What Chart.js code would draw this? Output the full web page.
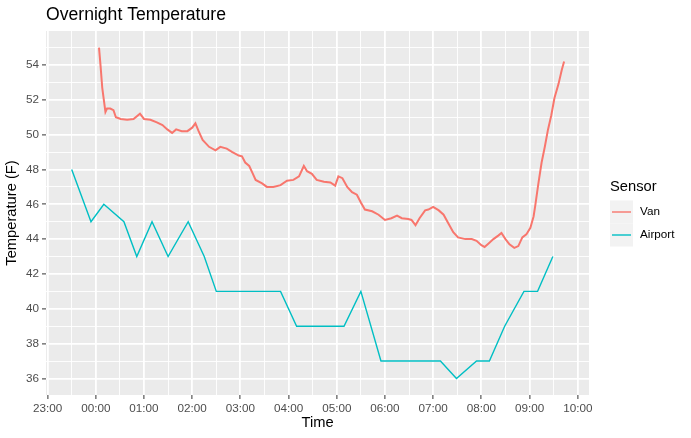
<!DOCTYPE html>
<html>
<head>
<meta charset="utf-8">
<script src="https://cdn.jsdelivr.net/npm/chart.js@4.4.0/dist/chart.umd.min.js"></script>
<style>
  html, body { margin: 0; padding: 0; background: #ffffff; }
</style>
</head>
<body>
<canvas id="overnight" width="691" height="438"></canvas>
<script>
// minutes relative to midnight (negative = before 00:00)
var vanMinutes = [4, 6, 8, 10, 12, 14, 18, 22, 25, 31, 39, 47, 55, 60, 68, 76, 83, 89, 95, 100,
  107, 114, 120, 124, 128, 133, 141, 149, 155, 163, 170, 178, 182, 186, 191, 195, 199, 207, 213, 221,
  230, 238, 246, 253, 259, 263, 269, 275, 284, 292, 298, 302, 307, 313, 319, 325, 330, 335, 344, 352,
  360, 368, 375, 381, 389, 393, 398, 403, 410, 414, 420, 427, 433, 439, 445, 451, 460, 468, 474, 480,
  484, 489, 495, 501, 505, 510, 515, 521, 526, 531, 536, 541, 545, 547, 551, 555, 559, 563, 567, 571,
  576, 580, 583];
var vanTemps = [55.0, 53.9, 52.7, 52.0, 51.3, 51.5, 51.5, 51.4, 51.0, 50.9, 50.85, 50.9, 51.2, 50.9, 50.85, 50.7, 50.55, 50.3, 50.1, 50.3,
  50.2, 50.2, 50.4, 50.65, 50.2, 49.7, 49.3, 49.1, 49.3, 49.2, 49.0, 48.8, 48.75, 48.4, 48.2, 47.8, 47.4, 47.2, 47.0, 47.0,
  47.1, 47.35, 47.4, 47.6, 48.2, 47.9, 47.75, 47.4, 47.3, 47.25, 47.07, 47.6, 47.5, 47.0, 46.7, 46.55, 46.1, 45.7, 45.6, 45.4,
  45.1, 45.2, 45.35, 45.2, 45.15, 45.1, 44.8, 45.2, 45.65, 45.7, 45.85, 45.65, 45.4, 44.9, 44.4, 44.1, 44.0, 44.0, 43.9, 43.65,
  43.55, 43.75, 44.0, 44.2, 44.35, 44.0, 43.7, 43.5, 43.6, 44.1, 44.27, 44.65, 45.3, 45.9, 47.2, 48.4, 49.3, 50.3, 51.1, 52.1,
  52.9, 53.7, 54.2];

var airportMinutes = [-30, -6, 10, 35, 51, 70, 90, 115, 135, 150, 230, 250, 309, 330, 355, 429, 449, 474, 490, 509, 533, 550, 569];
var airportTemps = [48, 45, 46, 45, 43, 45, 43, 45, 43, 41, 41, 39, 39, 41, 37, 37, 36, 37, 37, 39, 41, 41, 43];

var seriesNames = ["Van", "Airport"];
var seriesColors = ["#F8766D", "#00BFC4"];

var xTicks = [-60, -30, 0, 30, 60, 90, 120, 150, 180, 210, 240, 270, 300, 330, 360, 390, 420, 450, 480, 510, 540, 570, 600];
var yTicks = [36, 37, 38, 39, 40, 41, 42, 43, 44, 45, 46, 47, 48, 49, 50, 51, 52, 53, 54, 55];

var sansFont = "'Liberation Sans', Arial, sans-serif";

function pad2(n) {
  return n < 10 ? "0" + n : "" + n;
}

function clockLabel(m) {
  var t = ((m % 1440) + 1440) % 1440;
  return pad2(Math.floor(t / 60)) + ":" + pad2(t % 60);
}

function toPoints(xs, ys) {
  var pts = [];
  for (var i = 0; i < xs.length; i++) {
    pts.push({ x: xs[i], y: ys[i] });
  }
  return pts;
}

var panelPlugin = {
  id: "ggpanel",
  beforeDraw: function (chart) {
    var ctx = chart.ctx;
    var a = chart.chartArea;
    ctx.save();
    ctx.fillStyle = "#ffffff";
    ctx.fillRect(0, 0, chart.width, chart.height);
    ctx.fillStyle = "#EBEBEB";
    ctx.fillRect(a.left, a.top, a.right - a.left, a.bottom - a.top);
    ctx.restore();
  },
  afterDraw: function (chart) {
    var ctx = chart.ctx;
    ctx.save();
    ctx.textBaseline = "middle";
    ctx.textAlign = "left";

    // title
    ctx.fillStyle = "#000000";
    ctx.font = "17.6px " + sansFont;
    ctx.fillText("Overnight Temperature", 46, 15);

    // legend
    ctx.font = "14.7px " + sansFont;
    ctx.fillText("Sensor", 610, 187);
    ctx.font = "11.7px " + sansFont;
    for (var i = 0; i < seriesNames.length; i++) {
      var top = 200.5 + i * 23;
      ctx.fillStyle = "#F2F2F2";
      ctx.fillRect(610, top, 23, 23);
      ctx.strokeStyle = seriesColors[i];
      ctx.lineWidth = 1.4;
      ctx.beginPath();
      ctx.moveTo(612, top + 11.5);
      ctx.lineTo(631, top + 11.5);
      ctx.stroke();
      ctx.fillStyle = "#000000";
      ctx.fillText(seriesNames[i], 640, top + 11.5);
    }
    ctx.restore();
  },
};

function setTicks(values) {
  return function (scale) {
    scale.ticks = values.map(function (v) {
      return { value: v };
    });
  };
}

var config = {
  type: "scatter",
  data: {
    datasets: [
      {
        label: seriesNames[0],
        data: toPoints(vanMinutes, vanTemps),
        borderColor: seriesColors[0],
        backgroundColor: seriesColors[0],
        borderWidth: 2,
        showLine: true,
        pointRadius: 0,
        tension: 0,
      },
      {
        label: seriesNames[1],
        data: toPoints(airportMinutes, airportTemps),
        borderColor: seriesColors[1],
        backgroundColor: seriesColors[1],
        borderWidth: 1.4,
        showLine: true,
        pointRadius: 0,
        tension: 0,
      },
    ],
  },
  options: {
    responsive: false,
    animation: false,
    layout: { padding: { top: 31, right: 102, left: 0, bottom: 0 } },
    plugins: {
      legend: { display: false },
      tooltip: { enabled: false },
      title: { display: false },
    },
    scales: {
      x: {
        type: "linear",
        min: -62,
        max: 614,
        afterBuildTicks: setTicks(xTicks),
        afterFit: function (scale) {
          scale.height = 43;
        },
        border: { display: false },
        grid: {
          color: "#ffffff",
          lineWidth: function (c) {
            return c.tick && c.tick.value % 60 === 0 ? 1.8 : 0.9;
          },
          tickLength: 4,
          tickWidth: 1,
          tickColor: function (c) {
            return c.tick && c.tick.value % 60 === 0 ? "#333333" : "rgba(0,0,0,0)";
          },
        },
        ticks: {
          autoSkip: false,
          maxRotation: 0,
          padding: 3,
          color: "#4D4D4D",
          font: { size: 11.7, family: sansFont },
          callback: function (v) {
            return v % 60 === 0 ? clockLabel(v) : "";
          },
        },
        title: {
          display: true,
          text: "Time",
          color: "#000000",
          font: { size: 14.7, family: sansFont },
          padding: { top: 0, bottom: 6 },
        },
      },
      y: {
        type: "linear",
        min: 35.05,
        max: 55.95,
        afterBuildTicks: setTicks(yTicks),
        afterFit: function (scale) {
          scale.width = 46;
        },
        border: { display: false },
        grid: {
          color: "#ffffff",
          lineWidth: function (c) {
            return c.tick && c.tick.value % 2 === 0 ? 1.8 : 0.9;
          },
          tickLength: 4,
          tickWidth: 1,
          tickColor: function (c) {
            return c.tick && c.tick.value % 2 === 0 ? "#333333" : "rgba(0,0,0,0)";
          },
        },
        ticks: {
          autoSkip: false,
          padding: 3,
          color: "#4D4D4D",
          font: { size: 11.7, family: sansFont },
          callback: function (v) {
            return v % 2 === 0 ? "" + v : "";
          },
        },
        title: {
          display: true,
          text: "Temperature (F)",
          color: "#000000",
          font: { size: 14.7, family: sansFont },
          padding: { top: 3, bottom: 0 },
        },
      },
    },
  },
  plugins: [panelPlugin],
};

var ctx = document.getElementById("overnight").getContext("2d");
new Chart(ctx, config);
</script>
</body>
</html>
